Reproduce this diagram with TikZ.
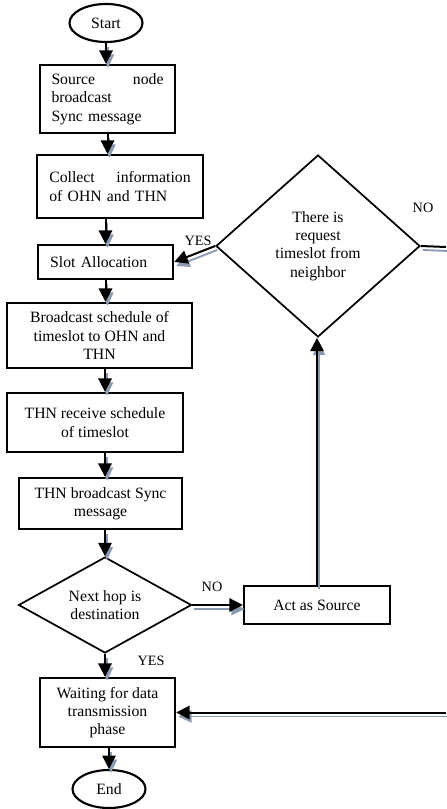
\documentclass[tikz,border=0pt]{standalone}
\usepackage{fontspec}
\setmainfont{Liberation Serif}
\usetikzlibrary{shapes.geometric,arrows.meta}
\definecolor{shadowc}{RGB}{138,154,176}
\begin{document}
\begin{tikzpicture}[x=0.75pt,y=-0.75pt,
  txt/.style={font=\fontsize{11.8}{13.7}\selectfont},
  box/.style={draw, line width=1.8pt, rectangle, inner sep=2pt, txt, align=center},
  oval/.style={draw, ellipse, line width=1.6pt, inner sep=0pt, txt},
  dia/.style={draw, diamond, line width=1.3pt, inner sep=0pt, align=center, txt},
  lbl/.style={font=\fontsize{10.7}{12}\selectfont},
  arr/.style={line width=1.5pt, -{Triangle[length=10pt,width=10pt]},
    preaction={draw=shadowc, line width=1.4pt, -{Triangle[length=10pt,width=9pt]},
      transform canvas={shift={(1.5pt,-3pt)}}}},
  ln/.style={line width=1.5pt,
    preaction={draw=shadowc, line width=1.4pt, transform canvas={shift={(1.5pt,-3pt)}}}}
]
\useasboundingbox (0,0) rectangle (446,809);

\node[oval, minimum width=54.75pt, minimum height=28.5pt] (start) at (106,23) {Start};
\node[box, minimum width=101.25pt, minimum height=51pt, text width=84pt, align=left] (box1) at (107.5,99)
  {Source\hfill node\\ broadcast\\ Sync message};
\node[box, minimum width=124.5pt, minimum height=47.25pt, text width=106pt, align=left] (box2) at (120,186.5)
  {Collect\hfill information\\ of OHN and THN};
\node[box, minimum width=101.25pt, minimum height=25.5pt, text width=83pt, align=left] (box3) at (105.5,262)
  {Slot Allocation};
\node[box, minimum width=138.75pt, minimum height=48.75pt] (box4) at (99.5,335.5)
  {Broadcast schedule of\\ timeslot to OHN and\\ THN};
\node[box, minimum width=132pt, minimum height=44.25pt] (box5) at (95,422.5)
  {THN receive schedule\\ of timeslot};
\node[box, minimum width=122.25pt, minimum height=38.25pt] (box6) at (100.5,503.5)
  {THN broadcast Sync\\ message};
\node[dia, minimum width=129.75pt, minimum height=72pt, shape aspect=1.8] (d1) at (105,605)
  {Next hop is\\ destination};
\node[box, minimum width=101.25pt, minimum height=51.75pt] (box7) at (107.5,712.5)
  {Waiting for data\\ transmission\\ phase};
\node[oval, minimum width=54.75pt, minimum height=28.5pt] (end) at (109,789) {End};
\node[box, minimum width=109.5pt, minimum height=28.5pt] (act) at (317,605) {Act as Source};
\node[dia, minimum width=153pt, minimum height=136.5pt, shape aspect=1.12] (d2) at (318,246)
  {There is\\ request\\ timeslot from\\ neighbor};

\coordinate (r1) at (446,247);
\coordinate (r2) at (446,712.5);

\draw[arr] (start.south) -- (start.south |- box1.north);
\draw[arr] (box1.south) -- (box1.south |- box2.north);
\draw[arr] (box3.north |- box2.south) -- (box3.north);
\draw[arr] (box3.south) -- (box3.south |- box4.north);
\draw[arr] (box4.south -| d1) -- (box5.north -| d1);
\draw[arr] (box5.south -| d1) -- (box6.north -| d1);
\draw[arr] (box6.south -| d1) -- (d1.north);
\draw[arr] (d1.south) -- (d1.south |- box7.north);
\draw[arr] (box7.south -| end) -- (end.north);
\draw[arr] (d1.east) -- (act.west);
\draw[arr] (act.north) -- (act.north |- d2.south);
\draw[arr] (d2.west) -- (box3.east);
\draw[ln] (d2.east) -- (r1);
\draw[arr] (r2) -- (box7.east);

\node[lbl] (yes1) at (198,241) {YES};
\node[lbl] (no1) at (423,208) {NO};
\node[lbl] (no2) at (212,587) {NO};
\node[lbl] (yes2) at (151,661) {YES};
\end{tikzpicture}
\end{document}
